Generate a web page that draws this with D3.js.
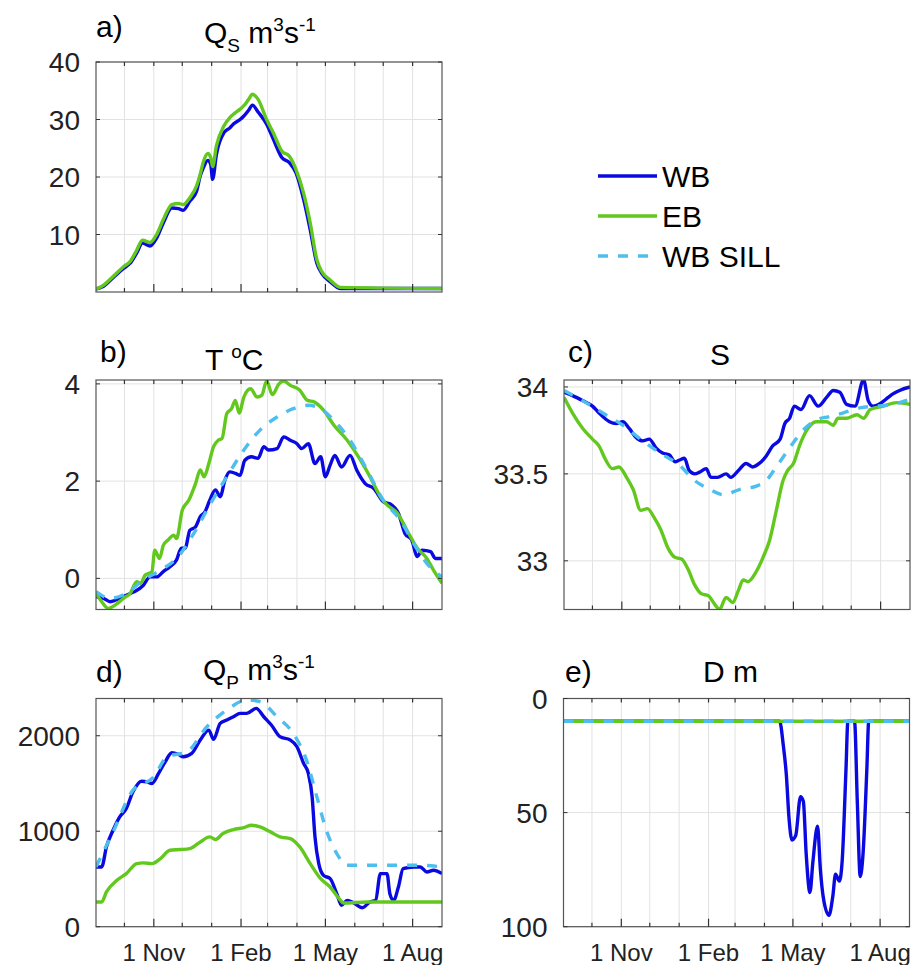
<!DOCTYPE html>
<html>
<head>
<meta charset="utf-8">
<script src="https://cdnjs.cloudflare.com/ajax/libs/d3/7.8.5/d3.min.js"></script>
<style>
  body { margin: 0; background: #fff; }
  svg { font-family: "Liberation Sans", Arial, sans-serif; }
</style>
</head>
<body>
<div id="chart"></div>
<script>
// ---- data (days counted from 1 Sep) ----
var seriesNames = ["WB", "EB", "WB SILL"]
var monthTickFormat = "%-d %b"

// a) Qs m3/s
var qsDays = [0, 8, 18, 29, 36, 43, 49, 57, 64, 71, 80, 87, 92, 99, 106, 110, 113, 118, 121, 123, 127, 135, 141, 145, 152, 156, 161, 165, 171, 180, 187, 196, 204, 211, 219, 226, 233, 238, 247, 258, 365]
var qsWB = [0.5, 1.0, 2.5, 4.1, 5.0, 6.8, 8.5, 8.0, 9.4, 12.0, 14.6, 14.5, 14.2, 15.8, 17.5, 20.2, 21.5, 22.9, 22.2, 19.6, 23.9, 27.7, 28.5, 29.2, 30.0, 30.6, 31.6, 32.5, 31.3, 29.2, 26.6, 23.4, 22.5, 20.7, 16.1, 10.8, 5.0, 3.3, 1.8, 0.6, 0.6]
var qsEB = [0.5, 1.2, 2.7, 4.4, 5.3, 7.3, 9.0, 8.6, 10.0, 12.6, 15.2, 15.4, 15.2, 16.4, 18.4, 20.5, 22.5, 24.1, 23.4, 21.8, 25.4, 28.9, 30.3, 30.9, 31.8, 32.4, 33.5, 34.4, 33.5, 30.0, 27.7, 24.5, 23.6, 21.3, 17.2, 12.0, 5.6, 3.6, 2.1, 0.8, 0.6]
var qsTicks = [10, 20, 30, 40]

// b) T degC
var tWBDays = [0, 8, 15, 25, 36, 41, 50, 57, 64, 71, 78, 85, 90, 94, 99, 105, 110, 115, 120, 126, 131, 136, 141, 147, 152, 157, 164, 171, 177, 182, 191, 198, 205, 212, 217, 224, 231, 237, 242, 247, 252, 259, 268, 275, 284, 293, 303, 312, 319, 326, 333, 339, 344, 353, 358, 365]
var tWB = [-0.38, -0.41, -0.48, -0.41, -0.31, -0.27, -0.14, 0.03, 0.03, 0.14, 0.24, 0.38, 0.62, 0.62, 0.99, 1.06, 1.27, 1.37, 1.61, 1.82, 1.68, 2.02, 2.19, 2.16, 2.12, 2.43, 2.5, 2.47, 2.71, 2.64, 2.67, 2.91, 2.84, 2.77, 2.67, 2.77, 2.36, 2.5, 2.09, 2.33, 2.53, 2.29, 2.53, 2.23, 1.95, 1.85, 1.58, 1.51, 1.34, 0.92, 0.79, 0.45, 0.58, 0.55, 0.41, 0.41]
var tEBDays = [0, 6, 13, 20, 29, 36, 43, 47, 52, 59, 62, 67, 71, 76, 82, 85, 91, 98, 105, 110, 114, 119, 124, 129, 133, 138, 143, 147, 151, 156, 163, 170, 175, 180, 186, 193, 198, 205, 215, 223, 230, 240, 251, 265, 279, 289, 300, 307, 318, 328, 339, 349, 356, 365]
var tEB = [-0.31, -0.48, -0.62, -0.55, -0.41, -0.31, -0.07, -0.10, 0.07, 0.14, 0.58, 0.41, 0.68, 0.79, 0.89, 0.82, 1.40, 1.61, 1.95, 2.23, 2.09, 2.36, 2.71, 2.84, 2.88, 3.39, 3.49, 3.66, 3.40, 3.73, 3.90, 3.73, 3.77, 4.06, 3.78, 4.0, 4.06, 3.97, 3.87, 3.66, 3.63, 3.46, 3.15, 2.84, 2.43, 2.09, 1.68, 1.51, 1.34, 0.99, 0.62, 0.41, 0.17, -0.10]
var tSillDays = [0, 15, 32, 50, 68, 85, 103, 120, 138, 156, 173, 191, 208, 224, 237, 251, 268, 286, 303, 321, 335, 349, 365]
var tSill = [-0.27, -0.41, -0.31, -0.03, 0.17, 0.41, 0.92, 1.51, 2.09, 2.64, 3.05, 3.32, 3.49, 3.56, 3.49, 3.25, 2.84, 2.23, 1.61, 1.20, 0.72, 0.31, 0.03]
var tTicks = [0, 2, 4]

// c) S
var sWBDays = [0, 9, 20, 30, 37, 48, 55, 62, 69, 76, 83, 90, 97, 104, 111, 117, 122, 127, 132, 138, 143, 150, 155, 162, 171, 176, 184, 192, 199, 206, 213, 220, 228, 233, 238, 243, 250, 259, 268, 277, 284, 291, 298, 307, 316, 321, 326, 335, 342, 347, 354, 365]
var sWB = [33.97, 33.95, 33.92, 33.89, 33.85, 33.80, 33.79, 33.80, 33.76, 33.71, 33.69, 33.70, 33.65, 33.62, 33.61, 33.57, 33.58, 33.59, 33.52, 33.50, 33.51, 33.53, 33.48, 33.48, 33.50, 33.48, 33.52, 33.56, 33.54, 33.56, 33.60, 33.66, 33.70, 33.79, 33.82, 33.89, 33.87, 33.95, 33.89, 33.94, 33.98, 33.97, 33.90, 33.89, 34.04, 33.92, 33.89, 33.91, 33.94, 33.96, 33.98, 34.00]
var sEBDays = [0, 9, 20, 30, 37, 44, 51, 58, 66, 73, 81, 88, 95, 102, 110, 117, 124, 131, 138, 145, 152, 159, 164, 171, 178, 184, 189, 194, 203, 210, 217, 224, 231, 236, 242, 249, 256, 266, 277, 284, 289, 298, 309, 316, 323, 337, 351, 365]
var sEB = [33.94, 33.85, 33.76, 33.70, 33.66, 33.58, 33.53, 33.54, 33.48, 33.41, 33.29, 33.30, 33.25, 33.18, 33.07, 33.02, 33.01, 32.95, 32.86, 32.81, 32.80, 32.75, 32.72, 32.79, 32.76, 32.83, 32.89, 32.88, 32.94, 33.02, 33.12, 33.29, 33.46, 33.52, 33.56, 33.67, 33.75, 33.80, 33.80, 33.78, 33.82, 33.82, 33.84, 33.82, 33.87, 33.89, 33.91, 33.90]
var sSillDays = [0, 20, 41, 62, 83, 104, 122, 136, 154, 168, 185, 203, 213, 224, 238, 252, 266, 280, 294, 312, 330, 347, 365]
var sSill = [33.98, 33.92, 33.85, 33.78, 33.69, 33.61, 33.55, 33.47, 33.41, 33.38, 33.41, 33.43, 33.46, 33.54, 33.65, 33.75, 33.81, 33.83, 33.85, 33.88, 33.89, 33.90, 33.93]
var sTicks = [33, 33.5, 34]

// d) Qp m3/s
var qpWBDays = [0, 6, 11, 18, 25, 32, 39, 48, 54, 59, 66, 73, 80, 87, 92, 101, 110, 119, 124, 131, 138, 145, 152, 159, 169, 177, 185, 194, 205, 212, 219, 224, 228, 231, 235, 240, 247, 254, 259, 265, 272, 281, 289, 295, 300, 307, 310, 314, 319, 324, 335, 342, 349, 356, 365]
var qpWB = [626, 626, 836, 1010, 1150, 1238, 1413, 1524, 1517, 1500, 1605, 1727, 1822, 1804, 1780, 1815, 1955, 2059, 1962, 2129, 2164, 2199, 2234, 2234, 2287, 2199, 2112, 1990, 1955, 1885, 1710, 1605, 1360, 941, 661, 538, 503, 346, 224, 276, 248, 199, 259, 276, 556, 556, 346, 276, 416, 608, 626, 626, 573, 591, 556]
var qpEBDays = [0, 6, 11, 22, 32, 43, 50, 59, 68, 78, 89, 99, 110, 120, 126, 134, 145, 156, 164, 173, 184, 194, 205, 215, 226, 237, 247, 258, 261, 286, 321, 365]
var qpEB = [259, 259, 364, 486, 556, 661, 668, 661, 713, 801, 808, 818, 888, 941, 913, 976, 1017, 1038, 1063, 1045, 993, 941, 923, 836, 661, 503, 416, 276, 248, 259, 259, 259]
var qpSillDays = [0, 18, 39, 61, 75, 96, 117, 138, 159, 173, 191, 208, 222, 233, 243, 254, 265, 286, 321, 342, 365]
var qpSill = [626, 993, 1430, 1570, 1780, 1832, 2094, 2269, 2374, 2357, 2199, 2024, 1745, 1360, 1010, 766, 643, 643, 643, 643, 626]
var qpTicks = [0, 1000, 2000]

// e) D m
var dWBDays = [0, 228, 232, 235, 238, 241, 245, 250, 253, 256, 260, 263, 268, 271, 274, 280, 284, 287, 291, 294, 298, 300, 307, 310, 313, 316, 320, 322, 365]
var dWB = [10, 10, 21, 33, 53, 62, 60, 43, 45, 68, 85, 72, 56, 75, 87, 95, 87, 77, 80, 71, 31, 10, 10, 46, 78, 68, 31, 10, 10]
var dFlatDays = [0, 365]
var dEB = [10, 10]
var dSill = [10, 10]
var dTicks = [0, 50, 100]

// ---- setup ----
var width = 918, height = 965
var startDate = new Date(2016, 8, 1)
var endDate = new Date(2017, 8, 1)
function toDate(d) { return d3.timeDay.offset(startDate, d) }

var styles = {
    "WB": { color: "#0a0ae0", dash: null },
    "EB": { color: "#62c81e", dash: null },
    "WB SILL": { color: "#4dbeee", dash: "10,10" }
}

var svg = d3.select("#chart").append("svg")
    .attr("width", width)
    .attr("height", height)

var months = d3.timeMonth.range(d3.timeMonth.offset(startDate, 1), endDate)
var majorMonths = [10, 1, 4, 7]   // Nov, Feb, May, Aug

function drawPanel(p) {
    var x = d3.scaleTime().domain([startDate, endDate]).range([p.box[0], p.box[1]])
    var y = d3.scaleLinear().domain(p.yDomain)
        .range(p.reversed ? [p.box[2], p.box[3]] : [p.box[3], p.box[2]])
    var g = svg.append("g")

    // grid
    g.append("g").selectAll("line").data(months).enter().append("line")
        .attr("x1", function(d) { return x(d) }).attr("x2", function(d) { return x(d) })
        .attr("y1", p.box[2]).attr("y2", p.box[3])
        .attr("stroke", "#e2e2e2").attr("stroke-width", 1)
    g.append("g").selectAll("line").data(p.yTicks).enter().append("line")
        .attr("x1", p.box[0]).attr("x2", p.box[1])
        .attr("y1", function(d) { return y(d) }).attr("y2", function(d) { return y(d) })
        .attr("stroke", "#e2e2e2").attr("stroke-width", 1)

    // clip
    svg.append("clipPath").attr("id", "clip" + p.id)
        .append("rect")
        .attr("x", p.box[0]).attr("y", p.box[2])
        .attr("width", p.box[1] - p.box[0]).attr("height", p.box[3] - p.box[2])

    var line = d3.line()
        .x(function(d) { return x(toDate(d[0])) })
        .y(function(d) { return y(d[1]) })
        .curve(d3.curveMonotoneX)

    p.series.forEach(function(s) {
        var pts = s[1].map(function(d, i) { return [d, s[2][i]] })
        g.append("path")
            .attr("d", line(pts))
            .attr("clip-path", "url(#clip" + p.id + ")")
            .attr("fill", "none")
            .attr("stroke", styles[s[0]].color)
            .attr("stroke-width", 3.4)
            .attr("stroke-dasharray", styles[s[0]].dash)
            .attr("stroke-linejoin", "round")
    })

    // box
    g.append("rect")
        .attr("x", p.box[0]).attr("y", p.box[2])
        .attr("width", p.box[1] - p.box[0]).attr("height", p.box[3] - p.box[2])
        .attr("fill", "none").attr("stroke", "#555").attr("stroke-width", 1.2)

    // month ticks bottom and top
    g.append("g").selectAll("line").data(months).enter().append("line")
        .attr("x1", function(d) { return x(d) }).attr("x2", function(d) { return x(d) })
        .attr("y1", p.box[3])
        .attr("y2", function(d) { return p.box[3] - (majorMonths.indexOf(d.getMonth()) >= 0 ? 8 : 4) })
        .attr("stroke", "#333").attr("stroke-width", 1.2)
    g.append("g").selectAll("line").data(months).enter().append("line")
        .attr("x1", function(d) { return x(d) }).attr("x2", function(d) { return x(d) })
        .attr("y1", p.box[2]).attr("y2", p.box[2] + 4)
        .attr("stroke", "#333").attr("stroke-width", 1.2)
    // y ticks left/right
    g.append("g").selectAll("line").data(p.yTicks).enter().append("line")
        .attr("x1", p.box[0]).attr("x2", p.box[0] + 4)
        .attr("y1", function(d) { return y(d) }).attr("y2", function(d) { return y(d) })
        .attr("stroke", "#333")
    g.append("g").selectAll("line").data(p.yTicks).enter().append("line")
        .attr("x1", p.box[1]).attr("x2", p.box[1] - 4)
        .attr("y1", function(d) { return y(d) }).attr("y2", function(d) { return y(d) })
        .attr("stroke", "#333")

    // y labels
    g.append("g").selectAll("text").data(p.yTicks).enter().append("text")
        .attr("x", p.box[0] - 16)
        .attr("y", function(d) { return y(d) })
        .attr("dy", "0.36em")
        .attr("text-anchor", "end")
        .style("font-size", "28px")
        .attr("fill", "#222")
        .text(function(d) { return d })

    // x labels
    if (p.xLabels) {
        var fmt = d3.timeFormat(monthTickFormat)
        g.append("g").selectAll("text")
            .data(months.filter(function(d) { return majorMonths.indexOf(d.getMonth()) >= 0 }))
            .enter().append("text")
            .attr("x", function(d) { return x(d) })
            .attr("y", p.box[3] + 34)
            .attr("text-anchor", "middle")
            .style("font-size", "24px")
            .attr("fill", "#222")
            .text(function(d) { return fmt(d) })
    }

    // panel letter
    svg.append("text")
        .attr("x", p.labelPos[0]).attr("y", p.labelPos[1])
        .style("font-size", "30px")
        .text(p.id + ")")

    // title with sub/superscripts
    var t = svg.append("text")
        .attr("x", p.titlePos[0]).attr("y", p.titlePos[1])
        .style("font-size", "30px")
    var shift = 0
    p.title.forEach(function(part) {
        var want = part[1] == "sub" ? 9 : (part[1] == "sup" ? -12 : 0)
        t.append("tspan")
            .attr("dy", want - shift)
            .style("font-size", part[1] ? "19px" : "30px")
            .text(part[0])
        shift = want
    })
}

var panels = [
    { id: "a", box: [96, 442, 62, 292], yDomain: [0, 40], yTicks: qsTicks, xLabels: false,
      series: [["WB", qsDays, qsWB], ["EB", qsDays, qsEB]],
      title: [["Q"], ["S", "sub"], [" m"], ["3", "sup"], ["s"], ["-1", "sup"]],
      titlePos: [204, 43], labelPos: [96, 37] },
    { id: "b", box: [96, 442, 380, 609.5], yDomain: [-0.64, 4.08], yTicks: tTicks, xLabels: false,
      series: [["WB", tWBDays, tWB], ["EB", tEBDays, tEB], ["WB SILL", tSillDays, tSill]],
      title: [["T "], ["o", "sup"], ["C"]],
      titlePos: [205, 370], labelPos: [100, 362] },
    { id: "c", box: [564, 910, 380, 609.5], yDomain: [32.72, 34.04], yTicks: sTicks, xLabels: false,
      series: [["WB", sWBDays, sWB], ["EB", sEBDays, sEB], ["WB SILL", sSillDays, sSill]],
      title: [["S"]],
      titlePos: [710, 365], labelPos: [568, 362] },
    { id: "d", box: [96, 442, 698.5, 926.7], yDomain: [0, 2390], yTicks: qpTicks, xLabels: true,
      series: [["WB", qpWBDays, qpWB], ["EB", qpEBDays, qpEB], ["WB SILL", qpSillDays, qpSill]],
      title: [["Q"], ["P", "sub"], [" m"], ["3", "sup"], ["s"], ["-1", "sup"]],
      titlePos: [203, 680], labelPos: [96, 682] },
    { id: "e", box: [563.5, 909.5, 698.5, 926.7], yDomain: [0, 100], yTicks: dTicks, xLabels: true, reversed: true,
      series: [["WB", dWBDays, dWB], ["EB", dFlatDays, dEB], ["WB SILL", dFlatDays, dSill]],
      title: [["D m"]],
      titlePos: [703, 682], labelPos: [565, 682] }
]

panels.forEach(drawPanel)

// legend
var legend = svg.append("g").attr("transform", "translate(598,176)")
seriesNames.forEach(function(name, i) {
    legend.append("line")
        .attr("x1", 0).attr("x2", 59)
        .attr("y1", i * 40).attr("y2", i * 40)
        .attr("stroke", styles[name].color)
        .attr("stroke-width", 3.4)
        .attr("stroke-dasharray", styles[name].dash)
    legend.append("text")
        .attr("x", 64).attr("y", i * 40)
        .attr("dy", "0.36em")
        .style("font-size", "30px")
        .text(name)
})
</script>
</body>
</html>
